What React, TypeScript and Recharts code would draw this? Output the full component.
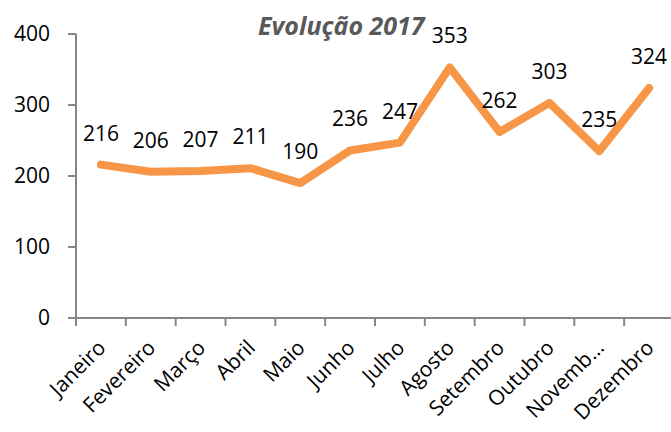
import React from 'react';
import { LineChart, Line, XAxis, YAxis, LabelList } from 'recharts';

// Monthly values for 2017
const months = ['Janeiro', 'Fevereiro', 'Março', 'Abril', 'Maio', 'Junho', 'Julho', 'Agosto', 'Setembro', 'Outubro', 'Novemb…', 'Dezembro'];
const values = [216, 206, 207, 211, 190, 236, 247, 353, 262, 303, 235, 324];
const yTicks = [0, 100, 200, 300, 400];

const data = months.map((m, i) => ({ name: m, value: values[i] }));

const FONT = '"Open Sans", sans-serif';
const AXIS = '#868686';
const CHART_W = 690;
const LEFT = 76;
const RIGHT = 16;
const HALF_BAND = (CHART_W - LEFT - RIGHT) / months.length / 2;

const MonthTick = (props: any) => {
  const { x, y, payload, index } = props;
  const tx = x + 6;
  const ty = y + 31;
  return (
    <g>
      <line x1={x - HALF_BAND} y1={y} x2={x - HALF_BAND} y2={y + 8} stroke={AXIS} strokeWidth={2} />
      {index === months.length - 1 && (
        <line x1={x + HALF_BAND} y1={y} x2={x + HALF_BAND} y2={y + 8} stroke={AXIS} strokeWidth={2} />
      )}
      <text
        x={tx}
        y={ty}
        transform={`rotate(-45 ${tx} ${ty})`}
        textAnchor="end"
        fill="#000"
        fontSize={21}
        fontFamily={FONT}
      >
        {payload.value}
      </text>
    </g>
  );
};

export default function App() {
  return (
    <div style={{ position: 'relative', width: 671, height: 432, overflow: 'hidden', background: '#fff' }}>
      <style>{'body{margin:0}'}</style>
      <div
        style={{
          position: 'absolute',
          left: 258,
          top: 10,
          fontFamily: FONT,
          fontSize: 25,
          fontWeight: 'bold',
          fontStyle: 'italic',
          color: '#595959',
          whiteSpace: 'nowrap',
          lineHeight: '30px',
        }}
      >
        Evolução 2017
      </div>
      <LineChart width={CHART_W} height={432} data={data} margin={{ top: 34, right: RIGHT, bottom: 0, left: 0 }}>
        <XAxis
          dataKey="name"
          scale="band"
          interval={0}
          height={114}
          tickLine={false}
          tickSize={0}
          tickMargin={0}
          axisLine={{ stroke: AXIS, strokeWidth: 2 }}
          tick={<MonthTick />}
        />
        <YAxis
          width={LEFT}
          domain={[0, 400]}
          ticks={yTicks}
          tickSize={8}
          tickMargin={18}
          axisLine={{ stroke: AXIS, strokeWidth: 2 }}
          tickLine={{ stroke: AXIS, strokeWidth: 2 }}
          tick={{ fill: '#000', fontSize: 21, fontFamily: FONT }}
        />
        <Line
          type="linear"
          dataKey="value"
          stroke="#F79646"
          strokeWidth={8}
          strokeLinecap="round"
          strokeLinejoin="round"
          dot={false}
          isAnimationActive={false}
        >
          <LabelList dataKey="value" position="top" offset={24} fill="#000" fontSize={21} fontFamily={FONT} />
        </Line>
      </LineChart>
    </div>
  );
}
